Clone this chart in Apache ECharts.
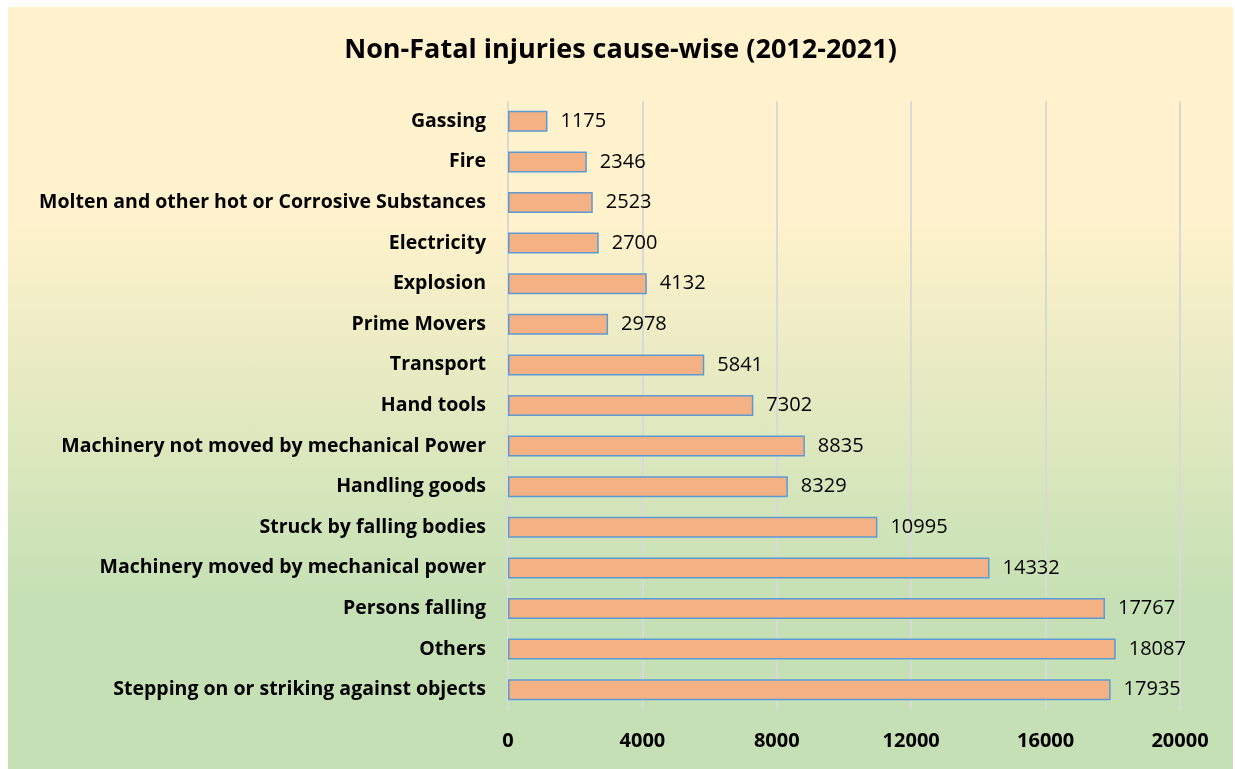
<!DOCTYPE html>
<html>
<head>
<meta charset="utf-8">
<script src="https://cdn.jsdelivr.net/npm/echarts@6/dist/echarts.min.js"></script>
<style>
  html, body { margin: 0; padding: 0; background: #ffffff; }
  #chart {
    position: absolute; left: 8px; top: 7px; width: 1225px; height: 762px;
    background: linear-gradient(to bottom, #FFF2CC 0%, #FFF2CC 28%, #C5E0B4 78%, #C5E0B4 100%);
  }
</style>
</head>
<body>
<div id="chart"></div>
<script>
// Categories listed bottom to top (as the category axis draws them)
const categories = [
    'Stepping on or striking against objects',
    'Others',
    'Persons falling',
    'Machinery moved by mechanical power',
    'Struck by falling bodies',
    'Handling goods',
    'Machinery not moved by mechanical Power',
    'Hand tools',
    'Transport',
    'Prime Movers',
    'Explosion',
    'Electricity',
    'Molten and other hot or Corrosive Substances',
    'Fire',
    'Gassing'
];
const injuries = [17935, 18087, 17767, 14332, 10995, 8329, 8835, 7302, 5841, 2978, 4132, 2700, 2523, 2346, 1175];

const chart = echarts.init(document.getElementById('chart'));

const font = '"Open Sans", "Noto Sans", sans-serif';

chart.setOption({
    title: {
        text: 'Non-Fatal injuries cause-wise (2012-2021)',
        left: 'center',
        top: 25,
        textStyle: { fontFamily: font, fontSize: 27, fontWeight: 'bold', color: '#000' }
    },
    grid: { left: 500, right: 53, top: 94, bottom: 59 },
    xAxis: {
        type: 'value',
        min: 0,
        max: 20000,
        interval: 4000,
        axisLine: { show: false },
        axisTick: { show: false },
        splitLine: { lineStyle: { color: '#D9D9D9', width: 2 } },
        axisLabel: {
            fontFamily: font, fontSize: 20, fontWeight: 'bold', color: '#000', margin: 21,
            formatter: v => String(v)
        }
    },
    yAxis: {
        type: 'category',
        data: categories,
        axisLine: { show: false },
        axisTick: { show: false },
        axisLabel: { fontFamily: font, fontSize: 19.5, fontWeight: 'bold', color: '#000', margin: 22 }
    },
    series: [{
        type: 'bar',
        data: injuries,
        barWidth: 21,
        itemStyle: { color: '#F4B183', borderColor: '#5B9BD5', borderWidth: 1.5 },
        label: {
            show: true,
            position: 'right',
            distance: 13,
            fontFamily: font,
            fontSize: 20,
            color: '#000'
        }
    }]
});
</script>
</body>
</html>
